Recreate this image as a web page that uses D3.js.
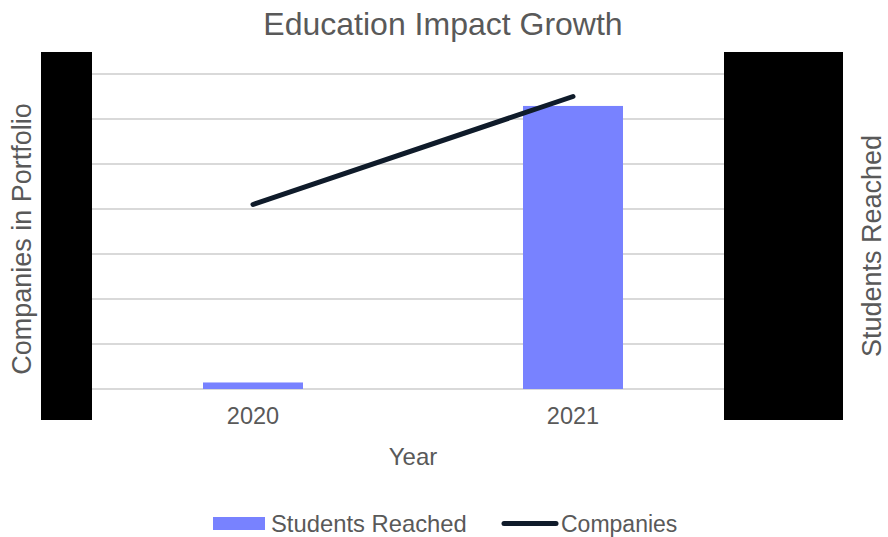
<!DOCTYPE html>
<html><head>
<meta charset="utf-8">
<title>Education Impact Growth</title>
<script src="https://d3js.org/d3.v7.min.js"></script>
<style>
  body { margin: 0; background: #fff; }
  text { font-family: "Liberation Sans", Arial, sans-serif; fill: #595959; }
</style>
</head>
<body>
<div id="chart"></div>
<script>

// data
var years = ["2020", "2021"];
var students = [145, 6290];
var companies = [41, 65];
var leftTicks = [0, 10, 20, 30, 40, 50, 60, 70];
var rightTicks = [0, 1000, 2000, 3000, 4000, 5000, 6000, 7000];

var W = 888, H = 537;
var plot = {left: 93, right: 733, top: 74, bottom: 389};

var svg = d3.select("#chart").append("svg")
  .attr("width", W)
  .attr("height", H);

var x = d3.scaleBand()
  .domain(years)
  .range([plot.left, plot.right])
  .paddingInner(0.6875)
  .paddingOuter(0.34375);

var yLeft = d3.scaleLinear().domain([0, 70]).range([plot.bottom, plot.top]);
var yRight = d3.scaleLinear().domain([0, 7000]).range([plot.bottom, plot.top]);

// gridlines
svg.append("g")
  .selectAll("line")
  .data(leftTicks)
  .enter().append("line")
    .attr("x1", plot.left - 2)
    .attr("x2", plot.right)
    .attr("y1", function(d) { return yLeft(d); })
    .attr("y2", function(d) { return yLeft(d); })
    .attr("stroke", "#d9d9d9")
    .attr("stroke-width", 2);

// axes (tick labels end up under the black boxes)
var axL = svg.append("g")
  .attr("transform", "translate(" + (plot.left - 2) + ",0)")
  .call(d3.axisLeft(yLeft).tickValues(leftTicks).tickSize(0).tickPadding(10));
axL.select(".domain").remove();
axL.selectAll("text").style("font-size", "20px");

var axR = svg.append("g")
  .attr("transform", "translate(" + 724 + ",0)")
  .call(d3.axisRight(yRight).tickValues(rightTicks).tickSize(0).tickPadding(10));
axR.select(".domain").remove();
axR.selectAll("text").style("font-size", "20px");

// bars
svg.append("g")
  .selectAll("rect")
  .data(years)
  .enter().append("rect")
    .attr("x", function(d) { return x(d); })
    .attr("width", x.bandwidth())
    .attr("y", function(d, i) { return yRight(students[i]); })
    .attr("height", function(d, i) { return yRight(0) - yRight(students[i]); })
    .attr("fill", "#7882ff");

// companies line
var line = d3.line()
  .x(function(d, i) { return x(years[i]) + x.bandwidth() / 2; })
  .y(function(d) { return yLeft(d); });

svg.append("path")
  .datum(companies)
  .attr("d", line)
  .attr("fill", "none")
  .attr("stroke", "#0f1b2a")
  .attr("stroke-width", 5)
  .attr("stroke-linecap", "round");

// black boxes over the tick labels
svg.append("rect")
  .attr("x", 41).attr("y", 52)
  .attr("width", 51).attr("height", 368)
  .attr("fill", "#000");
svg.append("rect")
  .attr("x", 724).attr("y", 52)
  .attr("width", 119).attr("height", 368)
  .attr("fill", "#000");

// x tick labels
var axB = svg.append("g")
  .attr("transform", "translate(0," + plot.bottom + ")")
  .call(d3.axisBottom(x).tickSize(0).tickPadding(18));
axB.select(".domain").remove();
axB.selectAll("text").style("font-size", "23.5px").style("fill", "#595959");

// titles
svg.append("text")
  .attr("x", 443).attr("y", 35)
  .attr("text-anchor", "middle")
  .style("font-size", "32px")
  .text("Education Impact Growth");

svg.append("text")
  .attr("x", 413).attr("y", 465)
  .attr("text-anchor", "middle")
  .style("font-size", "24px")
  .text("Year");

svg.append("text")
  .attr("transform", "translate(31,239) rotate(-90)")
  .attr("text-anchor", "middle")
  .style("font-size", "27px")
  .text("Companies in Portfolio");

svg.append("text")
  .attr("transform", "translate(881,246) rotate(-90)")
  .attr("text-anchor", "middle")
  .style("font-size", "27px")
  .text("Students Reached");

// legend
var legend = svg.append("g");
legend.append("rect")
  .attr("x", 213).attr("y", 517)
  .attr("width", 52).attr("height", 13)
  .attr("fill", "#7882ff");
legend.append("text")
  .attr("x", 271).attr("y", 532)
  .style("font-size", "23.8px")
  .text("Students Reached");
legend.append("line")
  .attr("x1", 504).attr("x2", 556)
  .attr("y1", 523.5).attr("y2", 523.5)
  .attr("stroke", "#0f1b2a")
  .attr("stroke-width", 5)
  .attr("stroke-linecap", "round");
legend.append("text")
  .attr("x", 561).attr("y", 532)
  .style("font-size", "23px")
  .text("Companies");

</script>
</body></html>
